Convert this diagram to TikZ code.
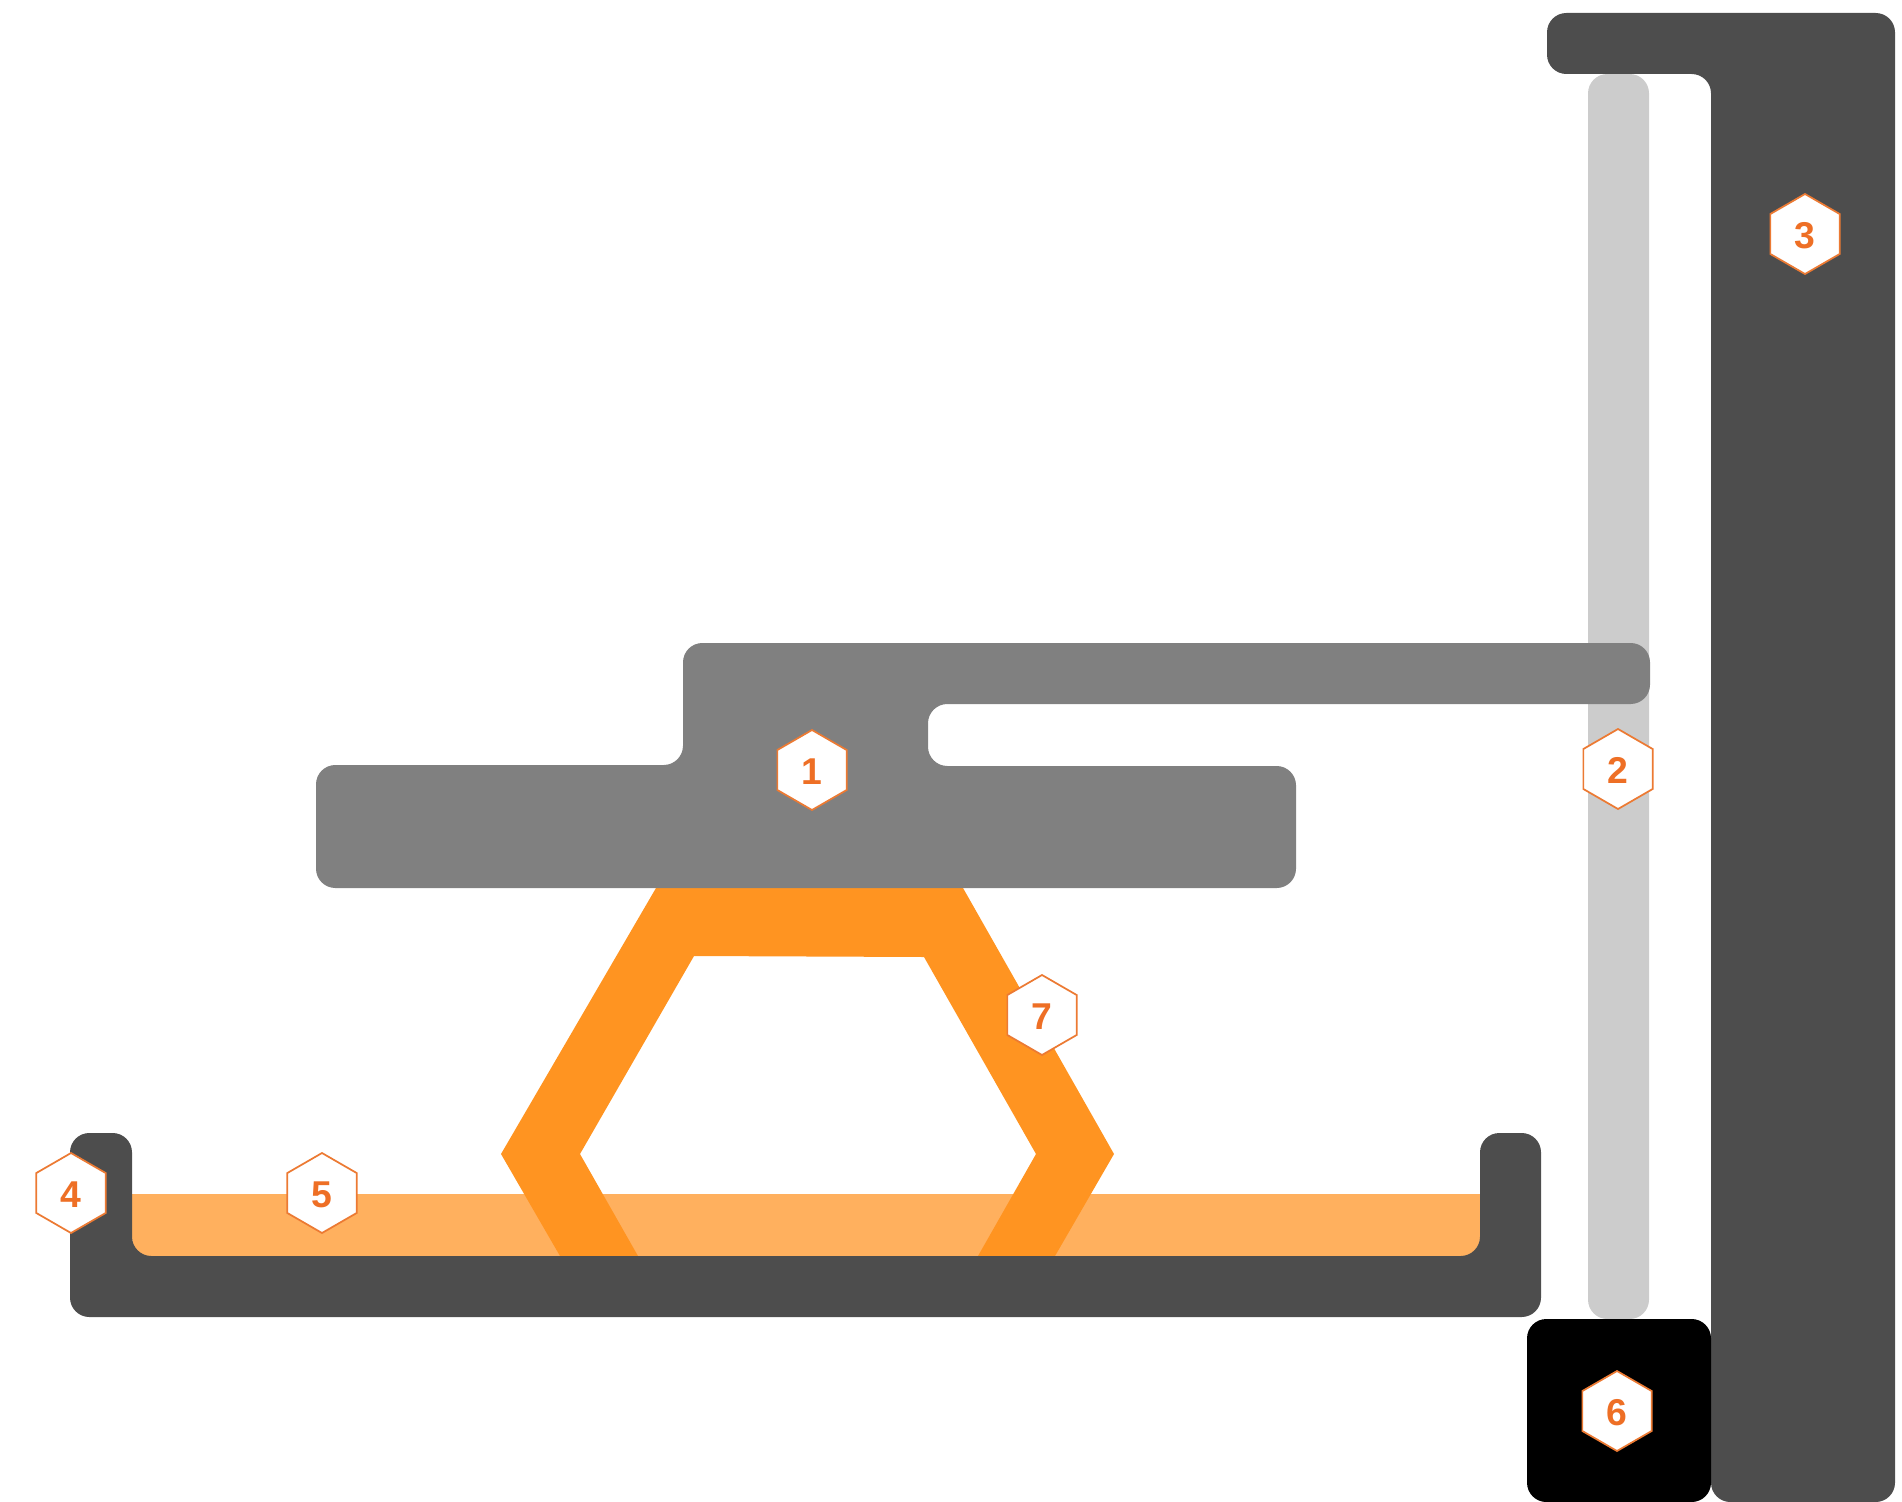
\documentclass[tikz,border=0pt]{standalone}
\usepackage{fontspec}
\setmainfont{Liberation Sans}
\usetikzlibrary{shapes.geometric}
\definecolor{towerdark}{HTML}{4D4D4D}
\definecolor{plategrey}{HTML}{808080}
\definecolor{rodgrey}{HTML}{CCCCCC}
\definecolor{partorange}{HTML}{FF9421}
\definecolor{resinorange}{HTML}{FFB05E}
\definecolor{hexorange}{HTML}{EC7A33}
\definecolor{digitorange}{HTML}{EE6F25}
\tikzset{
  rnd/.style={rounded corners=14.5pt},
  hexlabel/.style={regular polygon, regular polygon sides=6, shape border rotate=30, minimum size=60pt, inner sep=0pt,
    fill=white, draw=hexorange, line width=1.3pt, text=digitorange, text height=22pt, text depth=0pt,
    font=\fontsize{28}{28}\selectfont\bfseries},
}
\begin{document}
\begin{tikzpicture}[x=0.75pt,y=-0.75pt]
\useasboundingbox (0,0) rectangle (1902,1502);
% rod
\fill[rodgrey,rnd] (1588,74) rectangle (1649,1319);
% tower
\fill[towerdark,rnd] (1547,13) -- (1895,13) -- (1895,1502) -- (1711,1502) -- (1711,74) -- (1547,74) -- cycle;
% motor
\fill[black,rnd] (1527,1319) rectangle (1711,1502);
% resin
\fill[resinorange,rnd] (132,1194) -- (132,1257) -- (1480,1257) -- (1480,1194) -- cycle;
\fill[resinorange] (132,1194) rectangle (1480,1230);
% printed part
\fill[partorange] (656,888) -- (963,888) -- (1114,1154) -- (1055,1256) -- (978,1256) -- (1036,1154) -- (924,957) -- (694,956) -- (580,1154) -- (638,1256) -- (560,1256) -- (501,1154) -- cycle;
% tank
\fill[towerdark,rnd] (70,1133) -- (132,1133) -- (132,1256) -- (1480,1256) -- (1480,1133) -- (1541,1133) -- (1541,1317) -- (70,1317) -- cycle;
% build plate
\fill[plategrey,rnd] (316,765) -- (683,765) -- (683,643) -- (1650,643) -- (1650,704) -- (928,704) -- (928,766) -- (1296,766) -- (1296,888) -- (316,888) -- cycle;
% labels
\node[hexlabel] (n1) at (812,770) {1};
\node[hexlabel] (n2) at (1618,769) {2};
\node[hexlabel] (n3) at (1805,234) {3};
\node[hexlabel] (n4) at (71,1193) {4};
\node[hexlabel] (n5) at (322,1193) {5};
\node[hexlabel] (n6) at (1617,1411) {6};
\node[hexlabel] (n7) at (1042,1015) {7};
\end{tikzpicture}
\end{document}
